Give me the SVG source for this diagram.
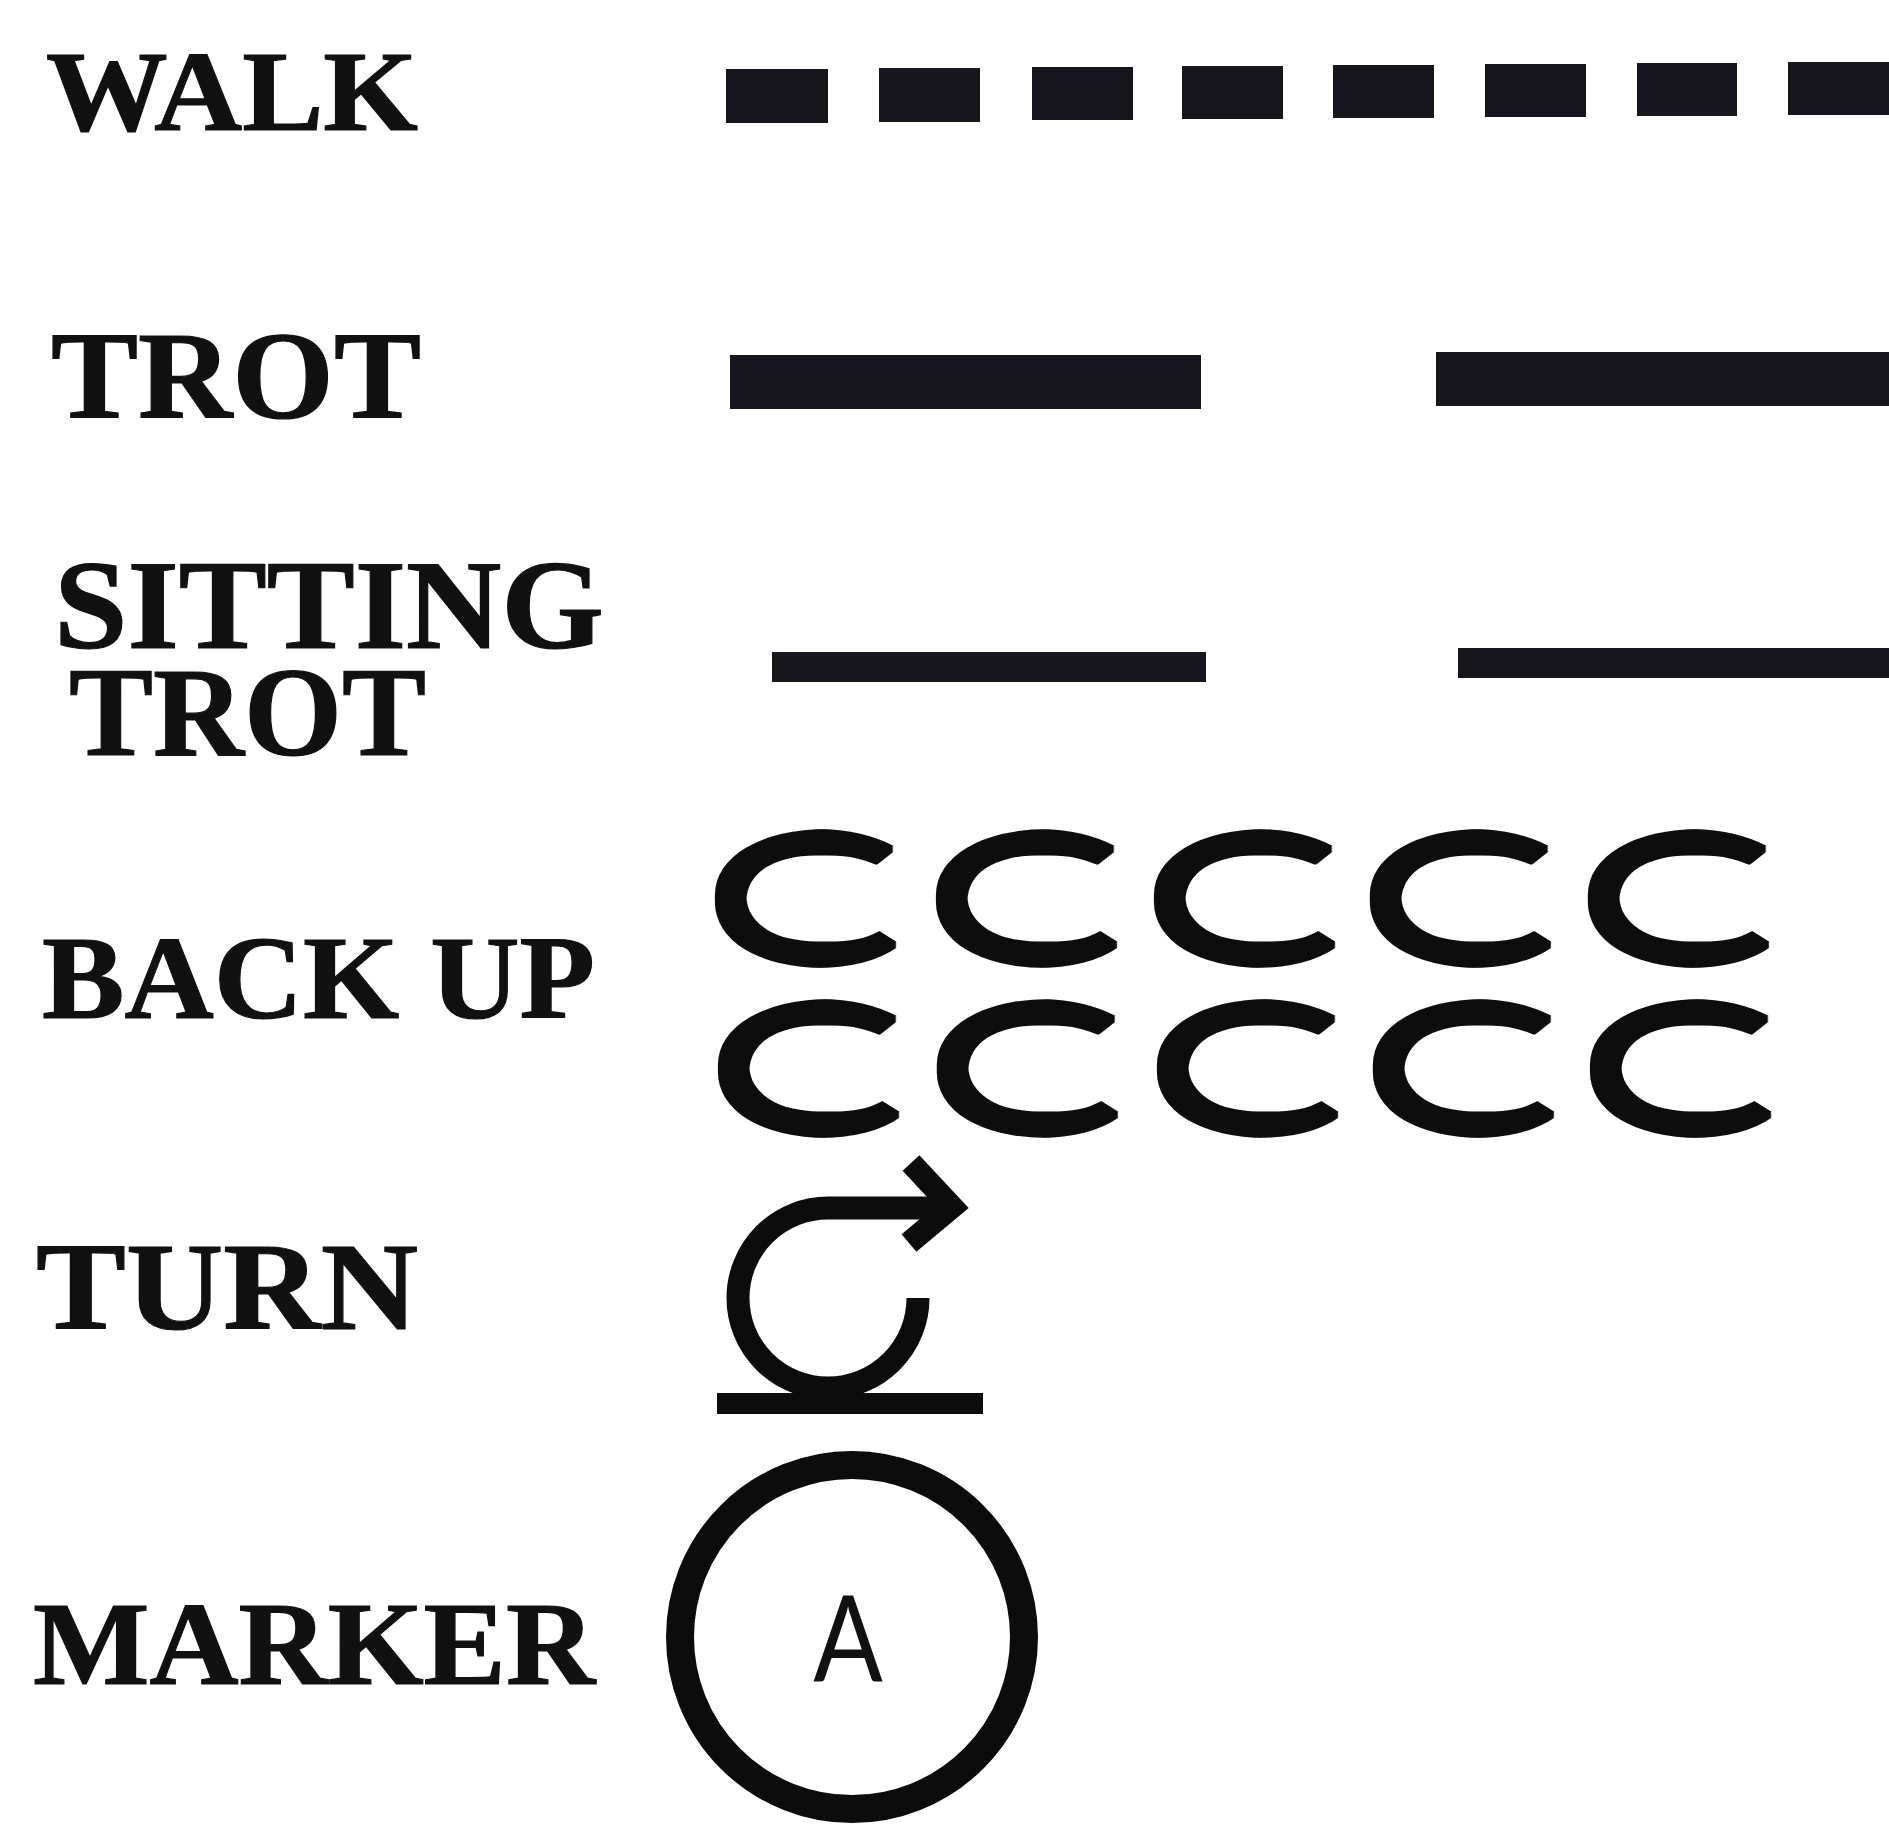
<svg xmlns="http://www.w3.org/2000/svg" width="1889" height="1825" viewBox="0 0 1889 1825">
<style>
.lbl{font-family:"Liberation Serif","Times New Roman",serif;font-weight:bold;fill:#111;stroke:#111;stroke-width:1.2;}
.bar{fill:#17161c;}
.cc{font-family:Lato,"Open Sans",sans-serif;font-weight:bold;font-size:180px;fill:#0c0c0c;}
.ln{fill:none;stroke:#0c0c0c;stroke-width:23;}
</style>
<defs>
<filter id="even" x="-5%" y="-10%" width="110%" height="120%">
<feMorphology operator="erode" radius="3.24 0.01" result="e"/>
<feMorphology in="e" operator="dilate" radius="0.01 2.5"/>
</filter>
</defs>
<rect width="1889" height="1825" fill="#fff"/>
<g id="walk">
<text class="lbl" x="46" y="130" font-size="115" textLength="372" lengthAdjust="spacingAndGlyphs">WALK</text>
<rect class="bar" x="726" y="69" width="102" height="54"/>
<rect class="bar" x="879" y="68" width="101" height="54"/>
<rect class="bar" x="1032" y="67" width="101" height="53"/>
<rect class="bar" x="1182" y="66" width="101" height="53"/>
<rect class="bar" x="1333" y="65" width="101" height="53"/>
<rect class="bar" x="1485" y="64" width="101" height="53"/>
<rect class="bar" x="1637" y="63" width="100" height="53"/>
<rect class="bar" x="1788" y="62" width="101" height="53"/>
</g>
<g id="trot">
<text class="lbl" x="51" y="418" font-size="124" textLength="370" lengthAdjust="spacingAndGlyphs">TROT</text>
<rect class="bar" x="730" y="355" width="471" height="54"/>
<rect class="bar" x="1436" y="352" width="453" height="54"/>
</g>
<g id="sitting-trot">
<text class="lbl" font-size="127"><tspan x="54" y="648" textLength="550" lengthAdjust="spacingAndGlyphs">SITTING</tspan><tspan x="69" y="755" textLength="357" lengthAdjust="spacingAndGlyphs">TROT</tspan></text>
<rect class="bar" x="772" y="652" width="434" height="30"/>
<rect class="bar" x="1458" y="648" width="431" height="30"/>
</g>
<g id="back-up">
<text class="lbl" x="42" y="1018" font-size="118" textLength="553" lengthAdjust="spacingAndGlyphs">BACK UP</text>
<text class="cc" transform="scale(1.761,1)" filter="url(#even)"><tspan x="395.6" y="963.5">C</tspan><tspan x="521.1" y="963.5">C</tspan><tspan x="644.9" y="963.5">C</tspan><tspan x="767.5" y="963.5">C</tspan><tspan x="891.3" y="963.5">C</tspan><tspan x="397.3" y="1133.5">C</tspan><tspan x="521.6" y="1133.5">C</tspan><tspan x="646.6" y="1133.5">C</tspan><tspan x="769.2" y="1133.5">C</tspan><tspan x="892.5" y="1133.5">C</tspan></text>
</g>
<g id="turn">
<text class="lbl" x="36" y="1329" font-size="124" textLength="382" lengthAdjust="spacingAndGlyphs">TURN</text>
<rect x="717" y="1393" width="266" height="21" fill="#0c0c0c"/>
<path class="ln" d="M918,1298 A90,90 0 1 1 828,1208 L952,1208"/>
<path class="ln" d="M911,1163 L952,1207 L909,1243" stroke-linejoin="miter"/>
</g>
<g id="marker">
<text class="lbl" x="33" y="1684" font-size="118" textLength="562" lengthAdjust="spacingAndGlyphs">MARKER</text>
<circle cx="852" cy="1637" r="172" fill="none" stroke="#0c0c0c" stroke-width="28"/>
<text transform="translate(848,1682) scale(0.85,1)" text-anchor="middle" font-family="Lato,'DejaVu Sans',sans-serif" font-weight="normal" font-size="121" fill="#111">A</text>
</g>
<g id="connectors"/>
</svg>
